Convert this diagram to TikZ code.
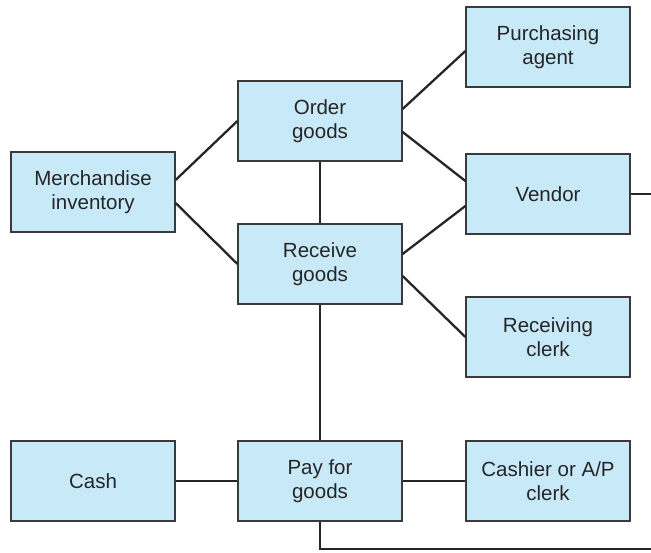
\documentclass[tikz,border=0pt]{standalone}
\usepackage{fontspec}
\setmainfont{Liberation Sans}
\usepackage{xcolor}
\usepackage{tikz}
\usetikzlibrary{positioning}
\definecolor{boxblue}{HTML}{C8E9F8}
\definecolor{boxedge}{HTML}{3A3A3A}
\definecolor{inkgrey}{HTML}{262626}
\tikzset{
  acct/.style={draw=boxedge,fill=boxblue,line width=1.2pt,minimum width=164pt,
    minimum height=80pt,inner sep=0pt,align=center,text=inkgrey,
    font=\fontsize{20.5}{24}\selectfont},
  link/.style={draw=inkgrey,line width=2.3pt}
}
\begin{document}
\begin{tikzpicture}[x=1pt,y=-1pt]
  \useasboundingbox (0,0) rectangle (651,553);
  % left column
  \node[acct] (merch) at (93,192) {Merchandise\\inventory};
  \node[acct] (cash) at (93,481) {Cash};
  % middle column
  \node[acct] (order) at (320,121) {Order\\goods};
  \node[acct] (receive) at (320,264) {Receive\\goods};
  \node[acct] (pay) at (320,481) {Pay for\\goods};
  % right column
  \node[acct] (purch) at (548,47) {Purchasing\\agent};
  \node[acct] (vendor) at (548,194) {Vendor};
  \node[acct] (rclerk) at (548,337) {Receiving\\clerk};
  \node[acct] (cashier) at (548,481) {Cashier or A/P\\clerk};
  \coordinate (vout) at (651,194);
  \coordinate (pout) at (651,549);
  % links
  \draw[link] ([yshift=12pt]merch.east) -- (order.west);
  \draw[link] ([yshift=-11pt]merch.east) -- (receive.west);
  \draw[link] ([yshift=12pt]order.east) -- ([yshift=-4pt]purch.west);
  \draw[link] ([yshift=-11pt]order.east) -- ([yshift=13pt]vendor.west);
  \draw[link] ([yshift=10pt]receive.east) -- ([yshift=-12pt]vendor.west);
  \draw[link] ([yshift=-12pt]receive.east) -- (rclerk.west);
  \draw[link] (order.south) -- (receive.north);
  \draw[link] (receive.south) -- (pay.north);
  \draw[link] (cash.east) -- (pay.west);
  \draw[link] (pay.east) -- (cashier.west);
  \draw[link] (vendor.east) -- (vout);
  \draw[link] (pay.south) |- (pout);
\end{tikzpicture}
\end{document}
